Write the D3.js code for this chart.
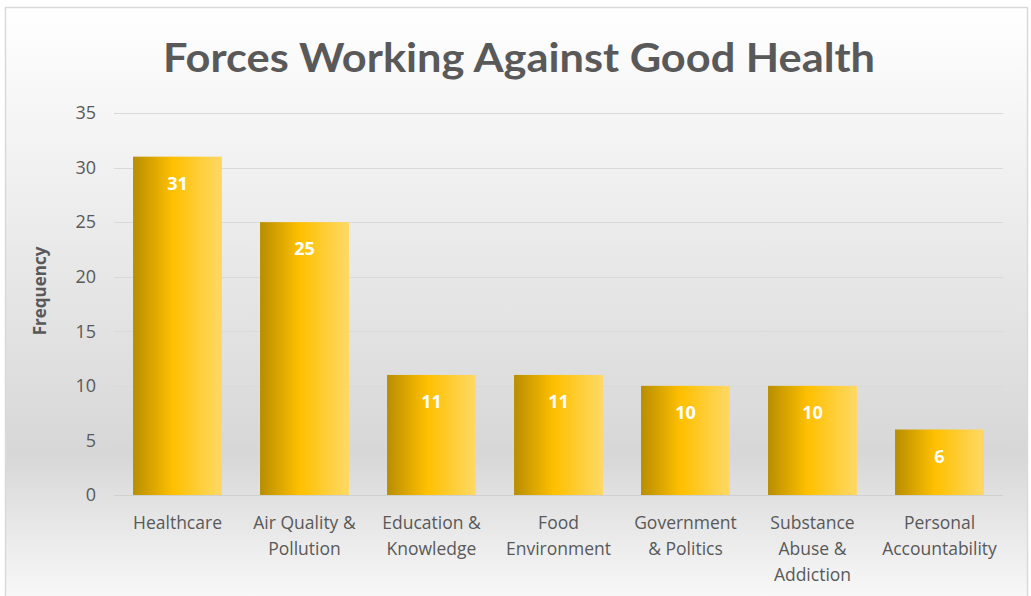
<!DOCTYPE html>
<html><head><meta charset="utf-8">
<script src="https://cdn.jsdelivr.net/npm/d3@7"></script>
<style>body{margin:0;background:#fff}svg{display:block}</style>
</head><body>
<script>
const categories = [["Healthcare"],["Air Quality &","Pollution"],["Education &","Knowledge"],["Food","Environment"],["Government","& Politics"],["Substance","Abuse &","Addiction"],["Personal","Accountability"]];
const values = [31,25,11,11,10,10,6];
const yTicks = [0,5,10,15,20,25,30,35];
const title = "Forces Working Against Good Health";
const yLabel = "Frequency";

const W=1031,H=596;
const svg=d3.select("body").append("svg").attr("width",W).attr("height",H);
const defs=svg.append("defs");
const bg=defs.append("linearGradient").attr("id","bg").attr("x1",0).attr("y1",0).attr("x2",0).attr("y2",1);
bg.append("stop").attr("offset","0%").attr("stop-color","#ffffff");
bg.append("stop").attr("offset","18%").attr("stop-color","#f5f5f5");
bg.append("stop").attr("offset","72%").attr("stop-color","#d7d7d7");
bg.append("stop").attr("offset","100%").attr("stop-color","#ffffff");
const bar=defs.append("linearGradient").attr("id","bar").attr("x1",0).attr("y1",0).attr("x2",1).attr("y2",0);
bar.append("stop").attr("offset","0%").attr("stop-color","#b88d00");
bar.append("stop").attr("offset","45%").attr("stop-color","#ffc000");
bar.append("stop").attr("offset","100%").attr("stop-color","#ffd966");

svg.append("rect").attr("x",5.5).attr("y",7.5).attr("width",1022).attr("height",620)
  .attr("fill","url(#bg)").attr("stroke","#d9d9d9").attr("stroke-width",1.5);

const x=d3.scaleBand().domain(d3.range(categories.length)).range([114,1003]).paddingInner(0.3).paddingOuter(0.15);
const y=d3.scaleLinear().domain([0,35]).range([495,113]);

svg.append("text").attr("x",519).attr("y",72).attr("text-anchor","middle")
  .attr("font-family","Lato, 'Open Sans', sans-serif").attr("font-weight","bold").attr("font-size",40)
  .attr("fill","#595959").attr("textLength",712).attr("lengthAdjust","spacingAndGlyphs").text(title);

const g=svg.append("g");
g.selectAll("line.grid").data(yTicks).join("line").attr("class","grid")
  .attr("x1",114).attr("x2",1003).attr("y1",d=>Math.round(y(d))+0.5).attr("y2",d=>Math.round(y(d))+0.5)
  .attr("stroke",d=>d===0?"#d0d0d0":"#d9d9d9").attr("stroke-width",1);

const yAxis=d3.axisLeft(y).tickValues(yTicks).tickSize(0).tickPadding(0);
const ya=svg.append("g").attr("transform","translate(96,0)").call(yAxis);
ya.select(".domain").remove();
ya.selectAll("text").attr("font-family","'Open Sans', sans-serif").attr("font-size",18).attr("fill","#595959");

svg.append("text").attr("transform","translate(46,291) rotate(-90)").attr("text-anchor","middle")
  .attr("font-family","'Open Sans', sans-serif").attr("font-weight","bold").attr("font-size",17).attr("fill","#595959").text(yLabel);

g.selectAll("rect.bar").data(values).join("rect").attr("class","bar")
  .attr("x",(d,i)=>x(i)).attr("width",x.bandwidth()).attr("y",d=>y(d)).attr("height",d=>y(0)-y(d))
  .attr("fill","url(#bar)");

g.selectAll("text.val").data(values).join("text").attr("class","val")
  .attr("x",(d,i)=>x(i)+x.bandwidth()/2).attr("y",d=>y(d)+33).attr("text-anchor","middle")
  .attr("font-family","'Open Sans', sans-serif").attr("font-weight","bold").attr("font-size",18).attr("fill","#ffffff")
  .text(d=>d);

const xl=svg.append("g");
categories.forEach((lines,i)=>{
  const t=xl.append("text").attr("text-anchor","middle").attr("font-family","'Open Sans', sans-serif")
    .attr("font-size",17.5).attr("fill","#595959");
  lines.forEach((s,j)=>t.append("tspan").attr("x",x(i)+x.bandwidth()/2).attr("y",529+j*26).text(s));
});
</script>
</body></html>
